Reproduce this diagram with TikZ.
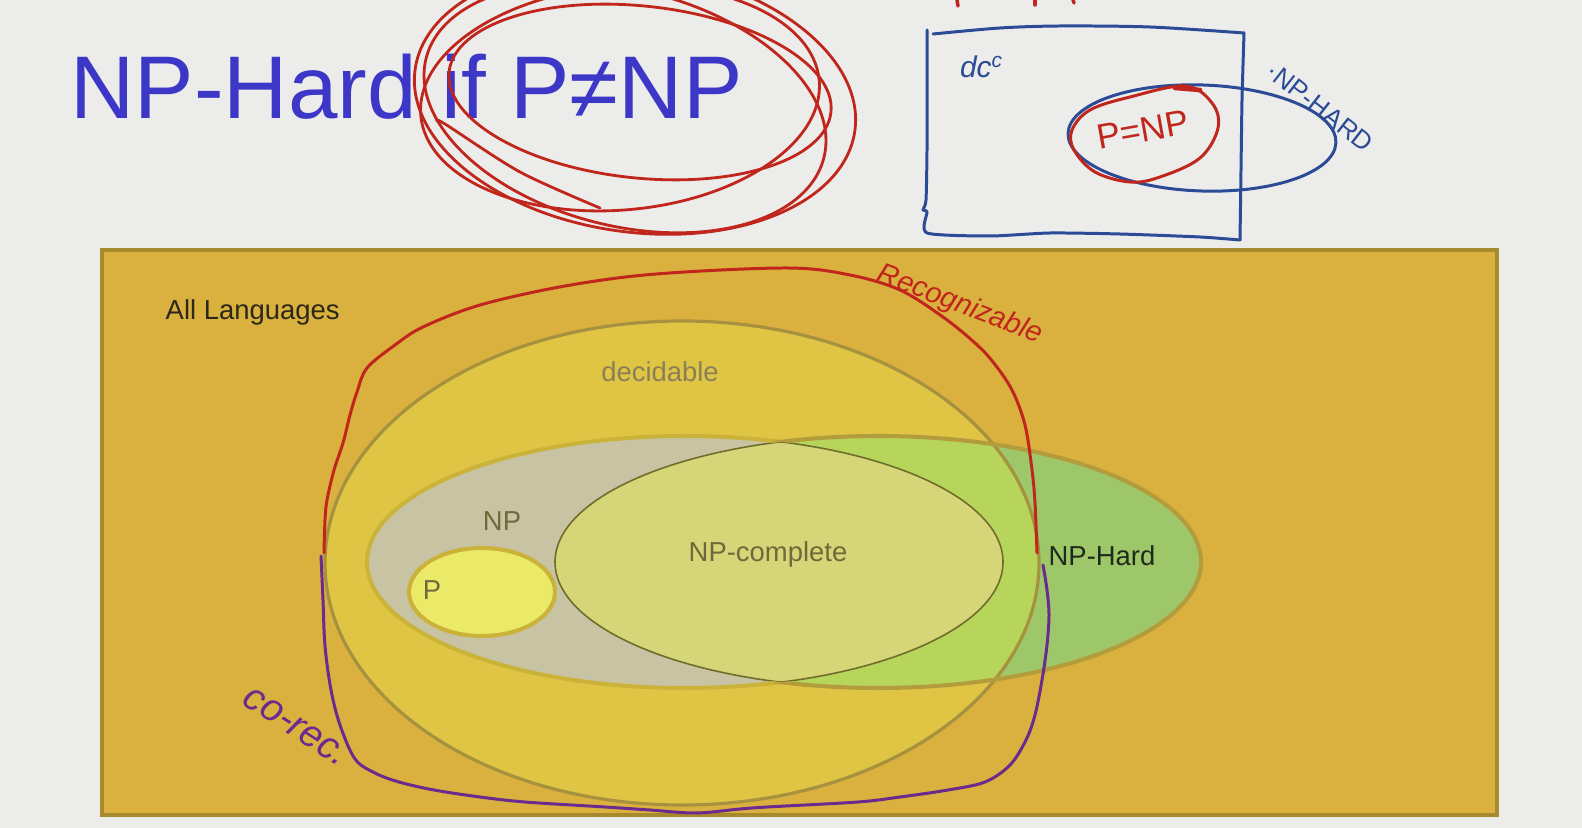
\documentclass[tikz,border=0pt]{standalone}
\usepackage{fontspec}
\setmainfont{Liberation Sans}
\usetikzlibrary{calc}

\definecolor{bgc}{HTML}{ECECEA}
\definecolor{titleblue}{HTML}{3C37C6}
\definecolor{allfill}{HTML}{DAB03E}
\definecolor{allline}{HTML}{A78A2E}
\definecolor{decfill}{HTML}{E0C545}
\definecolor{decline}{HTML}{A6913E}
\definecolor{npfill}{HTML}{C7C3A3}
\definecolor{npline}{HTML}{CBB33A}
\definecolor{hardout}{HTML}{9EC76A}
\definecolor{hardin}{HTML}{B6D55A}
\definecolor{hardline}{HTML}{B39C3C}
\definecolor{npcfill}{HTML}{D6D577}
\definecolor{npcline}{HTML}{6F6D2C}
\definecolor{pfill}{HTML}{EBEA68}
\definecolor{labelc}{HTML}{6E6A3C}
\definecolor{declab}{HTML}{8A8057}
\definecolor{alltext}{HTML}{2A2818}
\definecolor{hardtext}{HTML}{1F2A1A}
\definecolor{penred}{HTML}{C1261C}
\definecolor{penpurple}{HTML}{6B2A8E}
\definecolor{penblue}{HTML}{2C4B96}

\tikzset{
  lbl/.style={font=\fontsize{7.8}{9}\selectfont, inner sep=0pt},
  hand/.style={font=\itshape, inner sep=0pt},
  pen/.style={line width=0.85pt, line cap=round, line join=round},
  thickrim/.style={line width=1.15pt},
  thinrim/.style={line width=0.45pt, draw=npcline},
}

\begin{document}
\begin{tikzpicture}[x=0.01cm, y=-0.01cm]
\useasboundingbox (0,0) rectangle (1582,828);
\fill[bgc] (0,0) rectangle (1582,828);

% heading
\node[anchor=base west, text=titleblue, inner sep=0pt,
      font=\fontsize{25.3}{30}\selectfont] (title) at (70,119) {NP-Hard if P≠NP};

% the universe of languages
\path[fill=allfill, draw=allline, line width=0.9pt] (102,250) rectangle (1497,815);

% decidable
\fill[decfill] (682,563) ellipse [x radius=357, y radius=242];

% NP and NP-hard regions
\fill[npfill] (685,562) ellipse [x radius=318, y radius=126];
\fill[hardout] (878,562) ellipse [x radius=323, y radius=126];
\begin{scope}
  \clip (682,563) ellipse [x radius=357, y radius=242];
  \fill[hardin] (878,562) ellipse [x radius=323, y radius=126];
\end{scope}
% NP-complete = NP intersected with NP-hard
\begin{scope}
  \clip (685,562) ellipse [x radius=318, y radius=126];
  \fill[npcfill] (878,562) ellipse [x radius=323, y radius=126];
  \draw[thinrim] (878,562) ellipse [x radius=323, y radius=126];
\end{scope}
\begin{scope}
  \clip (878,562) ellipse [x radius=323, y radius=126];
  \draw[thinrim] (685,562) ellipse [x radius=318, y radius=126];
\end{scope}

% outer rims
\draw[decline, line width=0.9pt] (682,563) ellipse [x radius=357, y radius=242];
\begin{scope}[even odd rule]
  \clip (0,0) rectangle (1582,828) (878,562) ellipse [x radius=323, y radius=126];
  \draw[npline, thickrim] (685,562) ellipse [x radius=318, y radius=126];
\end{scope}
\begin{scope}[even odd rule]
  \clip (0,0) rectangle (1582,828) (685,562) ellipse [x radius=318, y radius=126];
  \draw[hardline, thickrim] (878,562) ellipse [x radius=323, y radius=126];
\end{scope}

% P
\path[fill=pfill, draw=npline, thickrim] (482,592) ellipse [x radius=73, y radius=44];

% region labels
\node[lbl, text=alltext, anchor=base west] (all) at (165,320) {All Languages};
\node[lbl, text=declab] (dec) at (660,372) {decidable};
\node[lbl, text=labelc] (np) at (502,521) {NP};
\node[lbl, text=labelc] (p) at (432,590) {P};
\node[lbl, text=labelc] (npc) at (768,554) {NP-complete};
\node[lbl, text=hardtext] (hard) at (1102,556) {NP-Hard};

% pen strokes: recognizable boundary
\draw[pen, penred] plot[smooth, tension=0.55] coordinates {
  (324,553) (325,520) (327,500) (334,470) (343,443) (350,415) (357,392)
  (367,368) (395,345) (423,327) (480,305) (565,286) (656,274) (787,268)
  (850,275) (900,290) (943,317) (975,343) (993,362) (1012,390) (1025,425)
  (1032,470) (1035,503) (1037,553)};
\node[hand, text=penred, rotate=-21, font=\fontsize{8.2}{10}\selectfont\itshape] (rec) at (960,305) {Recognizable};

% pen strokes: co-recognizable boundary
\draw[pen, penpurple] plot[smooth, tension=0.55] coordinates {
  (321,556) (323,600) (325,646) (331,690) (340,725) (355,759) (375,773)
  (399,782) (434,790) (480,797) (525,802) (605,807) (650,810) (696,813)
  (740,809) (767,807) (858,802) (900,797) (948,790) (985,782) (1010,765)
  (1026,740) (1035,715) (1042,680) (1047,645) (1049,615) (1047,590) (1043,565)};
\node[hand, text=penpurple, rotate=-33, font=\fontsize{11}{13}\selectfont\itshape] (corec) at (296,727) {co-rec.};

% circled condition in the heading
\begin{scope}[penred, line width=0.8pt]
  \draw[rotate around={-8:(635,100)}] (635,100) ellipse [x radius=222, y radius=132];
  \draw[rotate around={-14:(625,108)}] (625,108) ellipse [x radius=205, y radius=118];
  \draw[rotate around={-6:(640,92)}] (640,92) ellipse [x radius=192, y radius=86];
  \draw[rotate around={5:(620,98)}] (620,98) ellipse [x radius=200, y radius=112];
  \draw[line cap=round] plot[smooth] coordinates {(437,121) (445,124) (520,172) (600,208)};
\end{scope}

% small sketch: the case P = NP
\begin{scope}[pen, penblue]
  \draw plot[smooth, tension=0.5] coordinates {(933,34) (1000,28) (1060,26) (1150,27) (1244,33)};
  \draw plot[smooth, tension=0.4] coordinates {(1244,33) (1242,100) (1241,170) (1240,240)};
  \draw plot[smooth, tension=0.4] coordinates {(927,30) (927,90) (927,150) (926,200) (923,210) (927,212) (927,233)
    (990,236) (1050,233) (1120,234) (1200,237) (1240,240)};
  \draw[rotate around={-2:(1202,138)}] (1202,138) ellipse [x radius=134, y radius=53];
\end{scope}
\draw[pen, penred] plot[smooth cycle, tension=0.6] coordinates {
  (1185,86) (1212,103) (1218,128) (1200,158) (1160,177) (1130,182)
  (1095,172) (1074,150) (1072,130) (1090,110) (1130,97)};
\draw[pen, penred, line width=1.3pt] (1175,88) -- (1200,90);
\node[hand, text=penred, rotate=10, font=\fontsize{10}{12}\selectfont] (peqnp) at (1143,130) {P=NP};
\node[hand, text=penblue, font=\fontsize{8.5}{10}\selectfont\itshape] (dcc) at (982,67) {dc\textsuperscript{c}};
\node[hand, text=penblue, rotate=-38, font=\fontsize{7.4}{9}\selectfont] (nphard) at (1320,107) {·NP-HARD};

% marks cut off at the top edge
\draw[pen, penred, line width=1pt] (957,0) -- (958,6);
\draw[pen, penred, line width=1pt] (1035,0) -- (1035,5);
\draw[pen, penred, line width=1pt] (1073,0) -- (1074,3);
\end{tikzpicture}
\end{document}
